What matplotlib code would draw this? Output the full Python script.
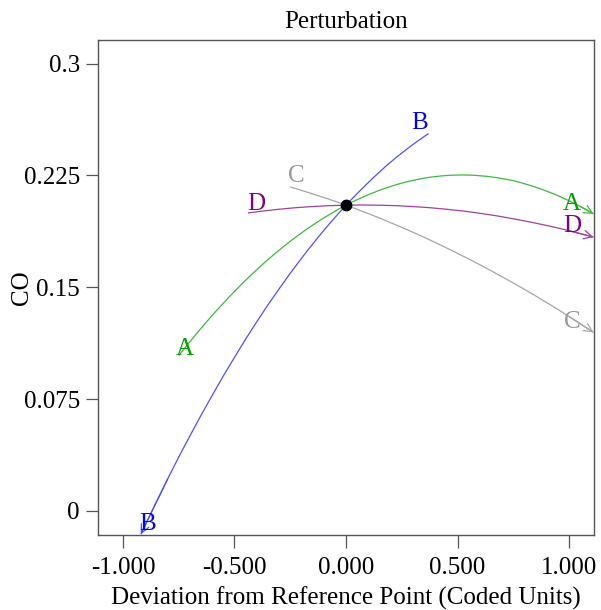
import matplotlib
matplotlib.use("Agg")
import matplotlib.pyplot as plt
from matplotlib.path import Path
from matplotlib.patches import PathPatch

plt.rcParams['font.family'] = ['Liberation Serif', 'DejaVu Serif']

# ---- data ----
A_x = [-0.75, -0.65, -0.55, -0.45, -0.35, -0.25, -0.15, -0.05, 0.0, 0.05, 0.15, 0.25,
       0.35, 0.45, 0.55, 0.65, 0.75, 0.85, 0.95, 1.05, 1.11]
A_y = [0.1042, 0.1225, 0.1393, 0.1547, 0.1685, 0.1808, 0.1916, 0.2009, 0.2050, 0.2087,
       0.2150, 0.2198, 0.2231, 0.2249, 0.2252, 0.2240, 0.2214, 0.2171, 0.2114, 0.2042, 0.1992]

B_x = [0.37, 0.3, 0.2, 0.1, 0.0, -0.1, -0.2, -0.3, -0.4, -0.5, -0.6, -0.7, -0.8, -0.92]
B_y = [0.2530, 0.2457, 0.2339, 0.2202, 0.2050, 0.1880, 0.1693, 0.1489, 0.1269, 0.1030,
       0.0775, 0.0503, 0.0214, -0.0156]

C_x = [-0.25, -0.1, 0.0, 0.1, 0.2, 0.3, 0.4, 0.5, 0.6, 0.7, 0.8, 0.9, 1.0, 1.11]
C_y = [0.2173, 0.2102, 0.2050, 0.1994, 0.1933, 0.1869, 0.1800, 0.1727, 0.1651, 0.1570,
       0.1486, 0.1397, 0.1304, 0.1197]

D_x = [-0.44, -0.3, -0.15, 0.0, 0.15, 0.3, 0.45, 0.6, 0.75, 0.9, 1.0, 1.11]
D_y = [0.1998, 0.2023, 0.2041, 0.2050, 0.2050, 0.2041, 0.2023, 0.1996, 0.1959, 0.1914,
       0.1879, 0.1836]

ref_x, ref_y = 0.0, 0.205

# label positions (start, end) for each factor
label_pos = {
    'A': [(-0.722, 0.1100), (1.012, 0.2075)],
    'B': [(-0.890, -0.0068), (0.328, 0.2615)],
    'C': [(-0.224, 0.2262), (1.016, 0.1287)],
    'D': [(-0.401, 0.2078), (1.014, 0.1928)],
}

x_ticks = [-1.0, -0.5, 0.0, 0.5, 1.0]
x_tick_labels = ['-1.000', '-0.500', '0.000', '0.500', '1.000']
y_ticks = [0.0, 0.075, 0.15, 0.225, 0.3]
y_tick_labels = ['0', '0.075', '0.15', '0.225', '0.3']

series = [
    ('A', A_x, A_y, '#3dba3d', '#00a000'),
    ('B', B_x, B_y, '#5050ff', '#0000ff'),
    ('C', C_x, C_y, '#a6a6a6', '#999999'),
    ('D', D_x, D_y, '#a040a0', '#800080'),
]


def smooth_path(xs, ys):
    """Catmull-Rom style Bezier path through the given points (rendering only)."""
    pts = list(zip(xs, ys))
    verts = [pts[0]]
    codes = [Path.MOVETO]
    n = len(pts)
    for i in range(n - 1):
        p0 = pts[i - 1] if i > 0 else pts[i]
        p1 = pts[i]
        p2 = pts[i + 1]
        p3 = pts[i + 2] if i + 2 < n else pts[i + 1]
        c1 = (p1[0] + (p2[0] - p0[0]) / 6.0, p1[1] + (p2[1] - p0[1]) / 6.0)
        c2 = (p2[0] - (p3[0] - p1[0]) / 6.0, p2[1] - (p3[1] - p1[1]) / 6.0)
        verts += [c1, c2, p2]
        codes += [Path.CURVE4] * 3
    return Path(verts, codes)


fig = plt.figure(figsize=(6.01, 6.10), dpi=100)
ax = fig.add_axes([98/601, 75/610, (594-98)/601, (535-39.5)/610])

for name, xs, ys, lc, tc in series:
    ax.add_patch(PathPatch(smooth_path(xs, ys), facecolor='none', edgecolor=lc, lw=0.9))
    ax.annotate('', xy=(xs[-1], ys[-1]), xytext=(xs[-2], ys[-2]),
                arrowprops=dict(arrowstyle='->,head_length=0.6,head_width=0.3',
                                color=lc, lw=0.9, shrinkA=0, shrinkB=0),
                annotation_clip=False)
    for (lx, ly) in label_pos[name]:
        ax.text(lx, ly, name, color=tc, fontsize=18, ha='center', va='center_baseline')

ax.plot([ref_x], [ref_y], 'o', color='black', markersize=7.5, zorder=5)

ax.set_xlim(-1.112, 1.112)
ax.set_ylim(-0.0161, 0.3161)
ax.set_xticks(x_ticks)
ax.set_xticklabels(x_tick_labels)
ax.set_yticks(y_ticks)
ax.set_yticklabels(y_tick_labels)
ax.tick_params(axis='both', direction='out', length=9, width=0.9, color='#555555',
               labelsize=18)
ax.tick_params(axis='x', pad=7)
ax.tick_params(axis='y', pad=4)
for s in ax.spines.values():
    s.set_color('#555555')
    s.set_linewidth(1.0)

ax.set_xlabel('Deviation from Reference Point (Coded Units)', fontsize=18)
ax.xaxis.set_label_coords(0.5, (610 - 598) / 610 * 610 / (535 - 39.5) - 75 / (535 - 39.5))
ax.set_ylabel('CO', fontsize=18)
ax.yaxis.set_label_coords((22 - 98) / (594 - 98), 0.5)
ax.xaxis.label.set_va('center')
ax.yaxis.label.set_va('center')
ax.set_title('Perturbation', fontsize=18, pad=0, va='center', y=(610 - 22 - 75) / (535 - 39.5))

fig.savefig('out.png', dpi=100)
